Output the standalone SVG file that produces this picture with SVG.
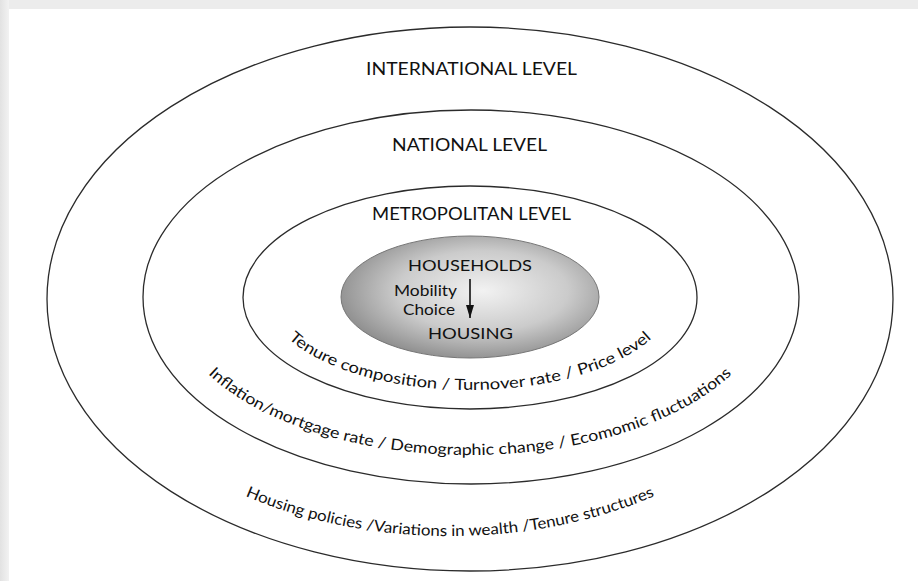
<svg xmlns="http://www.w3.org/2000/svg" width="918" height="581" viewBox="0 0 918 581">
  <style>
    .ring { fill: none; stroke: #2b2b2b; stroke-width: 1.3; }
    .lvl { font-family: Lato, "Liberation Sans", sans-serif; font-size: 16.5px; fill: #111; text-anchor: middle; }
    .inner { font-family: Lato, "Liberation Sans", sans-serif; font-size: 16px; fill: #111; }
    .arc { font-family: Lato, "Liberation Sans", sans-serif; font-size: 15.5px; fill: #111; }
  </style>
  <defs>
    <linearGradient id="leftband" x1="0" y1="0" x2="1" y2="0">
      <stop offset="0" stop-color="#e2e2e2"/>
      <stop offset="1" stop-color="#f2f2f2"/>
    </linearGradient>
    <radialGradient id="core" cx="0.55" cy="0.45" r="0.6">
      <stop offset="0" stop-color="#f2f2f2"/>
      <stop offset="0.55" stop-color="#cbcbcb"/>
      <stop offset="1" stop-color="#888888"/>
    </radialGradient>
    <marker id="ah" viewBox="0 0 13 8" refX="13" refY="4" markerWidth="13" markerHeight="8" markerUnits="userSpaceOnUse" orient="auto">
      <path d="M0 0 L13 4 L0 8 z" fill="#111"/>
    </marker>
    <path id="p1" d="M270.1 313.1 A203 93 0 0 0 669.9 313.1"/>
    <path id="p2" d="M180.2 337.9 A300 158 0 0 0 759.8 337.9"/>
    <path id="p3" d="M104.2 380.1 A368 237 0 0 0 795.8 380.1"/>
  </defs>

  <rect x="0" y="0" width="918" height="581" fill="#ffffff"/>
  <rect x="0" y="0" width="918" height="9" fill="#ececec"/>
  <rect x="0" y="0" width="9" height="581" fill="url(#leftband)"/>

  <g id="international">
    <ellipse class="ring" cx="470" cy="299" rx="423" ry="272"/>
    <text class="lvl" x="471.5" y="75" textLength="211" lengthAdjust="spacingAndGlyphs">INTERNATIONAL LEVEL</text>
    <text class="arc"><textPath href="#p3" startOffset="50%" text-anchor="middle" textLength="420" lengthAdjust="spacingAndGlyphs">Housing policies /Variations in wealth /Tenure structures</textPath></text>
  </g>

  <g id="national">
    <ellipse class="ring" cx="471" cy="297" rx="328" ry="187"/>
    <text class="lvl" x="469.5" y="151" textLength="155" lengthAdjust="spacingAndGlyphs">NATIONAL LEVEL</text>
    <text class="arc"><textPath href="#p2" startOffset="50%" text-anchor="middle" textLength="560" lengthAdjust="spacingAndGlyphs">Inflation/mortgage rate / Demographic change / Ecomomic fluctuations</textPath></text>
  </g>

  <g id="metropolitan">
    <ellipse class="ring" cx="470" cy="297.5" rx="227" ry="111.5"/>
    <text class="lvl" x="471.5" y="220" textLength="199" lengthAdjust="spacingAndGlyphs">METROPOLITAN LEVEL</text>
    <text class="arc"><textPath href="#p1" startOffset="50%" text-anchor="middle" textLength="385" lengthAdjust="spacingAndGlyphs">Tenure composition / Turnover rate / Price level</textPath></text>
  </g>

  <g id="households">
    <ellipse cx="470" cy="297" rx="129" ry="61" fill="url(#core)" stroke="#777" stroke-width="1"/>
    <text class="inner" x="470" y="271" text-anchor="middle" textLength="124" lengthAdjust="spacingAndGlyphs">HOUSEHOLDS</text>
    <text class="inner" x="457" y="296" text-anchor="end" font-size="15" textLength="63" lengthAdjust="spacingAndGlyphs">Mobility</text>
    <text class="inner" x="455" y="315" text-anchor="end" font-size="15" textLength="52" lengthAdjust="spacingAndGlyphs">Choice</text>
    <text class="inner" x="470.5" y="339" text-anchor="middle" textLength="85" lengthAdjust="spacingAndGlyphs">HOUSING</text>
  </g>

  <g id="connectors">
    <line x1="470" y1="279" x2="470" y2="318" stroke="#111" stroke-width="1.6" marker-end="url(#ah)"/>
  </g>
</svg>
